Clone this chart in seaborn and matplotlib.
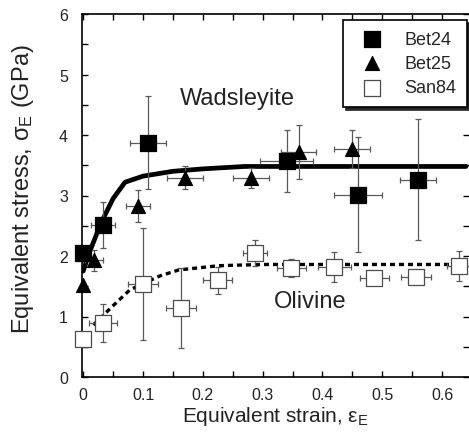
import numpy as np
import pandas as pd
import matplotlib
matplotlib.use("Agg")
import matplotlib.pyplot as plt
import seaborn as sns
from matplotlib.ticker import MultipleLocator, FuncFormatter

# Bet24 (filled squares)
bet24_strain = [0.0, 0.033, 0.108, 0.34, 0.46, 0.56]
bet24_stress = [2.05, 2.51, 3.87, 3.57, 3.01, 3.26]
bet24_xerr = [0.0, 0.02, 0.03, 0.045, 0.04, 0.03]
bet24_yerr = [0.0, 0.38, 0.77, 0.52, 0.95, 1.0]

# Bet25 (filled triangles)
bet25_strain = [0.0, 0.018, 0.092, 0.17, 0.28, 0.36, 0.45]
bet25_stress = [1.52, 1.93, 2.83, 3.29, 3.29, 3.72, 3.77]
bet25_xerr = [0.0, 0.015, 0.02, 0.03, 0.03, 0.03, 0.03]
bet25_yerr = [0.0, 0.17, 0.26, 0.19, 0.17, 0.45, 0.32]

# San84 (open squares)
san84_strain = [0.0, 0.033, 0.1, 0.163, 0.225, 0.287, 0.348, 0.42, 0.487, 0.557, 0.628]
san84_stress = [0.63, 0.89, 1.54, 1.14, 1.60, 2.05, 1.80, 1.82, 1.63, 1.65, 1.83]
san84_xerr = [0.0, 0.024, 0.025, 0.025, 0.024, 0.02, 0.024, 0.028, 0.024, 0.025, 0.02]
san84_yerr = [0.0, 0.31, 0.93, 0.66, 0.22, 0.22, 0.15, 0.25, 0.06, 0.08, 0.25]

# fitted trends
wad_strain = [0.0, 0.01, 0.03, 0.05, 0.07, 0.1, 0.15, 0.2, 0.27, 0.64]
wad_stress = [1.75, 2.05, 2.55, 2.95, 3.22, 3.32, 3.40, 3.44, 3.48, 3.48]
oliv_strain = [0.017, 0.048, 0.078, 0.128, 0.16, 0.227, 0.3, 0.64]
oliv_stress = [0.86, 1.16, 1.44, 1.67, 1.77, 1.84, 1.86, 1.86]

sns.set_style("ticks")
plt.rcParams['font.family'] = ['Liberation Sans', 'DejaVu Sans']
plt.rcParams['mathtext.fontset'] = 'custom'
plt.rcParams['mathtext.rm'] = 'Liberation Sans'
plt.rcParams['mathtext.it'] = 'Liberation Sans:italic'

fig = plt.figure(figsize=(4.69, 4.35), dpi=100)
ax = fig.add_axes([82 / 469, 57 / 435, 387 / 469, 363 / 435])

# trend lines
sns.lineplot(x=wad_strain, y=wad_stress, ax=ax, color='black', lw=3.4,
             sort=False, zorder=2)
oliv = sns.lineplot(x=oliv_strain, y=oliv_stress, ax=ax, color='black', lw=2.4,
                    sort=False, zorder=2)
oliv.lines[-1].set_dashes((1.5, 1.2))

# error bars
for xs, ys, xe, ye in [(bet24_strain, bet24_stress, bet24_xerr, bet24_yerr),
                       (bet25_strain, bet25_stress, bet25_xerr, bet25_yerr),
                       (san84_strain, san84_stress, san84_xerr, san84_yerr)]:
    ax.errorbar(xs, ys, xerr=xe, yerr=ye, fmt='none', ecolor='0.35',
                elinewidth=0.9, capsize=2.5, capthick=0.9, zorder=3)

sets = [
    ('Bet24', bet24_strain, bet24_stress, 's', 'black', 'black', 130),
    ('Bet25', bet25_strain, bet25_stress, '^', 'black', 'black', 100),
    ('San84', san84_strain, san84_stress, 's', 'white', '0.3', 140),
]
for name, xs, ys, mk, fc, ec, size in sets:
    df = pd.DataFrame({'strain': xs, 'stress': ys})
    sns.scatterplot(data=df, x='strain', y='stress', marker=mk, s=size,
                    color=fc, edgecolor=ec, linewidth=0.9, ax=ax,
                    label=name, zorder=4, clip_on=False)

ax.set_xlim(-0.002, 0.645)
ax.set_ylim(0, 6)
ax.xaxis.set_major_locator(MultipleLocator(0.1))
ax.xaxis.set_minor_locator(MultipleLocator(0.05))
ax.yaxis.set_major_locator(MultipleLocator(1))
ax.yaxis.set_minor_locator(MultipleLocator(0.5))
ax.xaxis.set_major_formatter(FuncFormatter(lambda v, p: f"{v:g}"))
ax.tick_params(which='both', direction='in', top=True, right=True,
               length=4, width=1, colors='black', labelcolor='#222222',
               labelsize=11.5)
ax.tick_params(axis='x', which='major', pad=7)
ax.tick_params(axis='y', which='major', pad=10)
for sp in ax.spines.values():
    sp.set_linewidth(1.2)
    sp.set_color('black')
ax.spines['right'].set_visible(False)

ax.set_xlabel(r'Equivalent strain, ε$_{\mathrm{E}}$', fontsize=15, color='#222222')
ax.set_ylabel(r'Equivalent stress, σ$_{\mathrm{E}}$ (GPa)', fontsize=17, color='#222222')
ax.yaxis.set_label_coords(-0.12, 0.52)
ax.xaxis.set_label_coords(0.5, -0.075)

ax.text(0.162, 4.51, 'Wadsleyite', fontsize=17, color='#222222', va='baseline')
ax.text(0.318, 1.16, 'Olivine', fontsize=17, color='#222222', va='baseline')

leg = ax.legend(loc='upper right', bbox_to_anchor=(0.995, 0.983),
                borderaxespad=0, fontsize=13, frameon=True, fancybox=False,
                shadow={'color': '0.15', 'alpha': 1}, edgecolor='black',
                labelspacing=0.4, handletextpad=0.8, borderpad=0.6,
                handlelength=2.0, markerscale=1.0)
leg.get_frame().set_linewidth(1.2)
leg.get_frame().set_alpha(1)

fig.savefig('out.png', dpi=100)
